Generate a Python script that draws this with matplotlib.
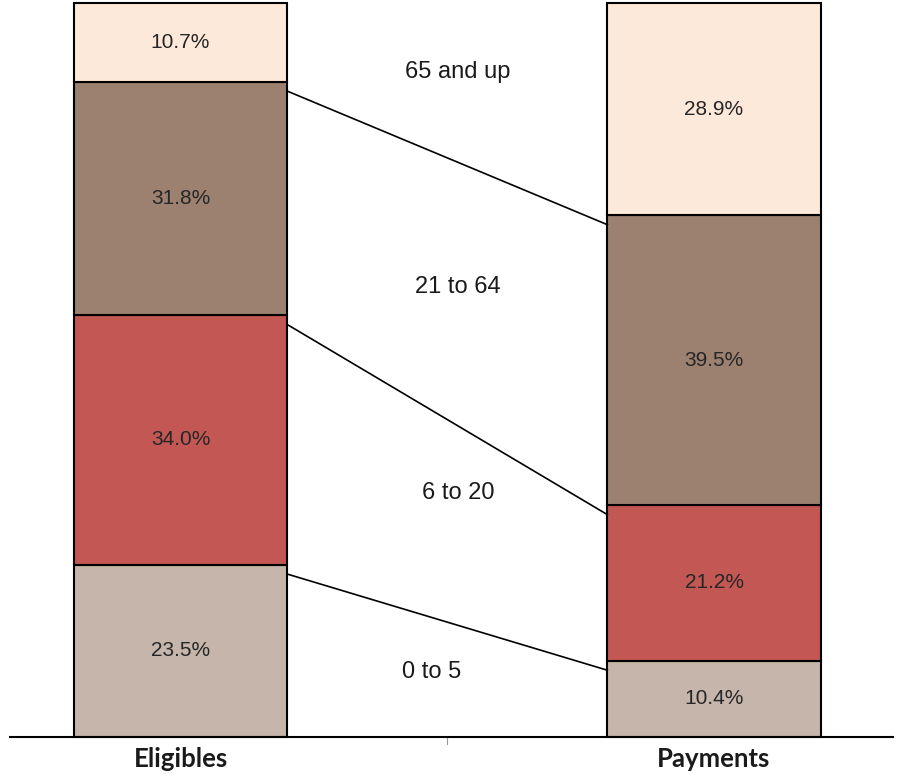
import matplotlib.pyplot as plt
import numpy as np

groups = ["Eligibles", "Payments"]
age_bands = ["0 to 5", "6 to 20", "21 to 64", "65 and up"]
eligibles = [23.5, 34.0, 31.8, 10.7]
payments = [10.4, 21.2, 39.5, 28.9]
band_colors = ["#C6B5AB", "#C25754", "#9C8170", "#FDE9D9"]
# where each age band name sits between the two columns (x, y)
band_label_pos = [(0.47, 8.9), (0.52, 33.2), (0.52, 61.3), (0.52, 90.6)]

W, H = 898, 776
fig = plt.figure(figsize=(W / 100, H / 100), dpi=100)
ax = fig.add_axes([10 / W, (H - 737) / H, 883 / W, 734 / H])

x = np.arange(len(groups))
bar_w = 0.4
data = np.array([eligibles, payments])
bottoms = np.zeros(len(groups))

for i, band in enumerate(age_bands):
    vals = data[:, i]
    ax.bar(x, vals, bar_w, bottom=bottoms, color=band_colors[i],
           edgecolor="black", linewidth=1.5, clip_on=False, zorder=2)
    for xi, v, b in zip(x, vals, bottoms):
        ax.text(xi, b + v / 2, f"{v:.1f}%", ha="center", va="center",
                fontsize=15, color="#262626", family="Liberation Sans")
    bottoms = bottoms + vals

# connectors between matching segment tops
cum = np.cumsum(data, axis=1)
for i in range(len(age_bands) - 1):
    ax.plot([x[0] + bar_w / 2, x[1] - bar_w / 2],
            [cum[0, i] - 1.3, cum[1, i] - 1.3],
            color="black", linewidth=1.2, zorder=3)

for band, (bx, by) in zip(age_bands, band_label_pos):
    ax.text(bx, by, band, ha="center", va="center", fontsize=17,
            color="#1a1a1a", family="Liberation Sans")

ax.set_xlim(-0.3196, 1.3355)
ax.set_ylim(0, 100)
for s in ["top", "left", "right"]:
    ax.spines[s].set_visible(False)
ax.spines["bottom"].set_linewidth(1.5)
ax.set_yticks([])
ax.set_xticks(x)
ax.set_xticklabels(groups, fontsize=18.5, fontweight="bold", family="Lato",
                   color="#1a1a1a")
ax.tick_params(axis="x", length=0, pad=7)
ax.plot([0.5, 0.5], [0, -1.0], color="#999999", linewidth=0.8,
        clip_on=False)

fig.savefig("out.png", dpi=100)
